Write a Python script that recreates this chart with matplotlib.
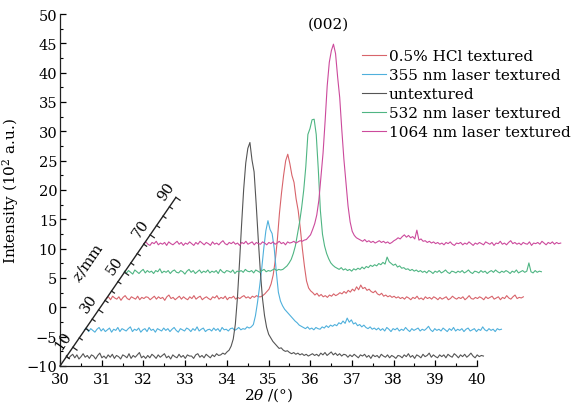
import numpy as np
import matplotlib
matplotlib.use("Agg")
import matplotlib.pyplot as plt

# ---------------- data (2theta grid, intensities in 10^2 a.u. above background) -------------
two_theta = np.linspace(30.0, 40.0, 201)

untextured = [
    0.2, -0.3, 0.1, 0.4, -0.2, 0.3, -0.4, 0.0, 0.5, -0.1, 0.2, -0.3, 0.3, 0.1, -0.4, 0.2, 0.6, -0.2, 0.1, -0.3,
    0.3, -0.1, 0.4, -0.3, 0.2, 0.0, -0.4, 0.3, 0.1, -0.2, 0.5, -0.3, 0.2, -0.1, 0.3, 0.7, -0.2, 0.1, -0.3, 0.2,
    -0.2, 0.4, 0.1, -0.3, 0.3, -0.1, 0.2, 0.5, -0.2, 0.1, -0.4, 0.3, 0.0, -0.2, 0.4, -0.1, 0.2, -0.3, 0.3, 0.1,
    0.1, -0.3, 0.3, 0.5, -0.1, 0.2, -0.2, 0.4, 0.1, -0.2, 0.3, 0.0, 0.5, 0.2, 0.3, 0.6, 0.4, 0.8, 1.1, 1.8,
    3.0, 5.5, 10.0, 16.0, 22.5, 28.5, 33.0, 35.5, 36.5, 33.5, 31.5, 26.0, 20.0, 14.5, 10.0, 7.0, 5.0, 3.8, 3.2, 2.6,
    2.2, 1.8, 1.4, 1.5, 1.1, 0.9, 1.0, 0.7, 0.5, 0.7, 0.4, 0.6, 0.3, 0.5, 0.2, 0.4, 0.1, 0.3, 0.5, 0.2,
    0.4, 0.1, 0.6, 0.3, 0.7, 0.2, 0.5, 0.8, 0.3, 0.6, 0.2, 0.5, 0.1, 0.4, 0.3, -0.1, 0.3, 0.0, 0.4, 0.1,
    -0.2, 0.3, 0.1, 0.4, -0.1, 0.2, -0.3, 0.3, 0.0, 0.2, -0.2, 0.4, 0.1, -0.1, 0.3, -0.2, 0.2, 0.0, -0.3, 0.2,
    0.1, -0.2, 0.3, 0.0, 0.5, -0.1, 0.2, -0.3, 0.3, 0.1, -0.2, 0.4, 0.0, 0.2, 0.6, -0.1, 0.3, 0.0, -0.2, 0.3,
    0.0, 0.3, -0.2, 0.4, 0.1, -0.1, 0.5, 0.2, -0.2, 0.3, 0.0, 0.4, -0.1, 0.2, 0.6, 0.1, -0.2, 0.3, 0.0, 0.2,
    0.1]

laser_355 = [
    0.1, 0.4, -0.2, 0.3, 0.0, -0.3, 0.2, 0.5, -0.1, 0.3, -0.2, 0.1, 0.4, -0.3, 0.2, 0.0, 0.5, -0.2, 0.3, 0.1,
    -0.1, 0.3, 0.6, -0.2, 0.2, 0.0, 0.4, -0.3, 0.1, 0.3, -0.2, 0.5, 0.0, 0.2, -0.3, 0.3, 0.1, -0.1, 0.4, 0.0,
    0.3, -0.2, 0.2, 0.5, 0.0, -0.3, 0.3, 0.1, -0.1, 0.4, 0.2, -0.2, 0.3, 0.0, 0.6, -0.1, 0.2, 0.4, -0.2, 0.1,
    0.2, -0.1, 0.4, 0.0, 0.3, -0.2, 0.5, 0.1, 0.2, -0.1, 0.3, 0.4, 0.0, 0.2, 0.5, 0.1, 0.3, 0.2, 0.6, 0.4,
    0.6, 1.0, 2.5, 4.8, 7.5, 10.5, 14.0, 17.0, 18.7, 17.2, 16.5, 14.0, 10.0, 6.5, 5.0, 4.2, 3.6, 3.2, 2.8, 2.4,
    2.0, 1.6, 1.3, 0.9, 0.7, 0.5, 0.3, 0.6, 0.2, 0.4, 0.1, 0.5, 0.3, 0.2, 0.6, 0.4, 0.8, 0.5, 0.9, 0.7,
    1.0, 0.8, 1.3, 1.1, 1.6, 1.2, 2.1, 1.4, 1.8, 1.1, 1.3, 0.8, 1.0, 0.6, 0.9, 0.5, 0.3, 0.6, 0.2, 0.4,
    0.1, 0.4, 0.0, 0.3, -0.1, 0.5, 0.2, -0.2, 0.3, 0.1, 0.4, -0.1, 0.2, 0.0, 0.5, 0.1, -0.2, 0.3, 0.0, 0.2,
    0.4, -0.1, 0.2, 0.0, 0.3, 0.7, 0.1, -0.2, 0.3, 0.0, 0.2, -0.1, 0.4, 0.1, -0.2, 0.3, 0.0, 0.5, -0.1, 0.2,
    0.0, 0.3, -0.2, 0.2, 0.4, -0.1, 0.1, 0.3, -0.2, 0.2, 0.0, 0.6, 0.1, -0.1, 0.3, 0.0, 0.2, -0.2, 0.3, 0.1,
    0.2]

hcl_textured = [
    0.0, 0.3, -0.2, 0.4, 0.1, -0.1, 0.3, -0.3, 0.2, 0.5, 0.0, -0.2, 0.3, 0.1, -0.1, 0.4, -0.2, 0.2, 0.0, 0.3,
    0.2, -0.2, 0.1, 0.4, -0.1, 0.3, 0.0, 0.2, -0.3, 0.3, 0.6, 0.0, 0.2, -0.2, 0.1, 0.4, -0.1, 0.3, 0.0, -0.2,
    0.3, 0.0, 0.5, -0.1, 0.2, 0.4, -0.2, 0.1, 0.3, 0.0, -0.2, 0.3, 0.1, 0.5, -0.1, 0.2, 0.0, 0.4, -0.2, 0.2,
    0.1, 0.4, -0.1, 0.2, 0.0, 0.3, 0.5, 0.1, 0.3, 0.0, 0.4, 0.2, 0.5, 0.3, 0.3, 0.5, 0.8, 1.2, 1.6, 2.5,
    4.0, 6.5, 10.0, 14.5, 18.0, 21.0, 23.5, 24.6, 23.0, 21.0, 19.8, 17.0, 15.0, 12.0, 8.5, 5.5, 3.0, 1.8, 1.3, 1.0,
    0.6, 0.9, 0.4, 0.7, 0.3, 0.5, 0.2, 0.6, 0.4, 0.8, 0.5, 0.7, 1.0, 0.8, 1.2, 0.9, 1.4, 1.1, 1.6, 1.3,
    2.0, 1.5, 2.3, 1.7, 1.9, 1.4, 1.6, 1.2, 1.0, 1.3, 0.8, 0.6, 0.9, 0.4, 0.6, 0.3, 0.5, 0.2, 0.4, 0.1,
    0.3, 0.0, 0.2, -0.1, 0.3, 0.1, -0.2, 0.2, 0.0, 0.4, -0.1, 0.1, -0.2, 0.3, 0.0, 0.2, -0.1, 0.3, 0.1, -0.2,
    0.2, -0.1, 0.1, 0.3, -0.2, 0.0, 0.4, 0.1, -0.1, 0.2, 0.0, 0.3, -0.2, 0.1, 0.5, 0.0, -0.1, 0.2, 0.0, 0.3,
    0.1, -0.2, 0.3, 0.0, 0.2, 0.4, -0.1, 0.1, 0.3, -0.2, 0.2, 0.0, 0.5, 0.1, -0.1, 0.3, 0.6, 0.0, 0.2, 0.1,
    0.3]

laser_532 = [
    0.2, -0.1, 0.3, 0.0, -0.3, 0.4, 0.1, -0.2, 0.2, 0.5, -0.1, 0.3, 0.0, 0.2, -0.2, 0.3, 0.1, 0.6, -0.1, 0.2,
    0.0, 0.3, -0.2, 0.2, 0.4, 0.0, -0.1, 0.3, 0.1, -0.3, 0.2, 0.5, 0.0, 0.3, -0.2, 0.1, 0.4, -0.1, 0.2, 0.0,
    0.4, -0.1, 0.2, 0.0, 0.3, -0.2, 0.5, 0.1, -0.1, 0.3, 0.2, 0.0, 0.4, -0.2, 0.2, 0.1, 0.3, 0.0, 0.5, 0.2,
    0.1, 0.3, -0.1, 0.4, 0.2, 0.0, 0.3, 0.5, 0.1, 0.3, 0.2, 0.4, 0.6, 0.3, 0.5, 0.4, 0.5, 0.8, 1.1, 1.6,
    2.2, 3.2, 4.5, 6.5, 8.5, 11.0, 14.0, 18.0, 23.5, 24.5, 26.0, 26.1, 23.5, 17.5, 10.5, 6.5, 4.5, 3.2, 2.3, 1.6,
    1.2, 0.9, 0.7, 0.5, 0.8, 0.4, 0.6, 0.3, 0.5, 0.2, 0.6, 0.4, 0.7, 0.5, 0.9, 0.6, 1.0, 0.8, 1.2, 1.0,
    1.3, 1.1, 1.5, 1.3, 1.7, 1.4, 2.6, 1.8, 1.5, 1.2, 1.4, 0.9, 1.1, 0.7, 0.8, 0.5, 0.6, 0.3, 0.5, 0.2,
    0.4, 0.1, 0.3, 0.0, 0.2, -0.1, 0.3, 0.1, -0.2, 0.2, 0.0, 0.3, -0.1, 0.1, 0.4, 0.0, -0.2, 0.2, 0.1, -0.1,
    0.2, 0.0, 0.3, -0.1, 0.1, 0.4, 0.0, -0.2, 0.2, 0.1, -0.1, 0.3, 0.0, 0.2, -0.2, 0.1, 0.3, 0.0, 0.4, 0.1,
    -0.1, 0.2, 0.0, 0.3, 0.1, -0.2, 0.2, 0.0, 0.4, -0.1, 0.1, 0.3, 0.0, 0.2, 1.6, 0.1, -0.1, 0.3, 0.0, 0.2,
    0.1]

laser_1064 = [
    0.1, 0.4, 0.0, -0.2, 0.3, 0.1, 0.5, -0.1, 0.2, 0.0, 0.3, -0.2, 0.4, 0.1, -0.1, 0.2, 0.5, 0.0, 0.3, -0.2,
    0.2, 0.0, 0.4, 0.1, -0.2, 0.3, 0.0, 0.5, 0.2, -0.1, 0.3, 0.1, -0.2, 0.4, 0.0, 0.2, -0.1, 0.3, 0.6, 0.1,
    -0.1, 0.3, 0.1, 0.4, 0.0, 0.2, -0.2, 0.3, 0.1, 0.5, 0.0, 0.2, 0.4, -0.1, 0.3, 0.1, 0.0, 0.4, 0.2, -0.1,
    0.3, 0.1, 0.4, 0.0, 0.2, 0.5, 0.1, 0.3, -0.1, 0.4, 0.2, 0.3, 0.5, 0.2, 0.4, 0.6, 0.5, 0.7, 0.8, 1.2,
    1.6, 2.5, 3.5, 5.0, 7.5, 11.5, 15.5, 21.0, 27.0, 31.0, 33.0, 34.1, 32.5, 28.5, 25.0, 19.5, 14.5, 10.5, 6.5, 3.8,
    2.2, 1.5, 1.1, 0.9, 0.7, 0.5, 0.8, 0.4, 0.6, 0.3, 0.5, 0.2, 0.4, 0.6, 0.3, 0.5, 0.2, 0.4, 0.1, 0.3,
    0.6, 0.8, 1.1, 0.9, 1.3, 1.6, 1.2, 1.5, 1.1, 1.3, 0.9, 2.4, 0.7, 0.9, 0.5, 0.6, 0.3, 0.5, 0.2, 0.4,
    0.1, 0.3, 0.0, 0.2, -0.1, 0.3, 0.1, 0.4, 0.0, -0.2, 0.2, 0.1, 0.3, -0.1, 0.2, 0.0, 0.4, 0.1, -0.2, 0.2,
    0.0, 0.3, 0.1, -0.1, 0.4, 0.2, 0.0, 0.3, -0.2, 0.2, 0.1, 0.5, 0.0, 0.2, -0.1, 0.3, 0.6, 0.1, 0.3, 0.0,
    0.2, -0.1, 0.3, 0.1, 0.0, 0.4, -0.2, 0.2, 0.1, 0.3, 0.0, 0.5, 0.2, -0.1, 0.3, 0.1, 0.4, 0.0, 0.3, 0.1,
    0.2]

series_labels = ["0.5% HCl textured", "355 nm laser textured", "untextured",
                 "532 nm laser textured", "1064 nm laser textured"]
series_values = [hcl_textured, laser_355, untextured, laser_532, laser_1064]
series_z = [36, 19, 5, 50, 65]          # position along the z axis (mm)
z_ticklabels = [10, 30, 50, 70, 90]
x_ticks = list(range(30, 41))
y_ticks = list(range(-10, 51, 5))

# ---------------- style -------------
colors = ["#d8646b", "#4fb0dc", "#555555", "#4fb583", "#cc4a9c"]
plt.rcParams["font.family"] = ["DejaVu Serif"]
plt.rcParams["mathtext.fontset"] = "dejavuserif"
plt.rcParams["axes.unicode_minus"] = True

W, H = 575, 410
fig = plt.figure(figsize=(W / 100, H / 100), dpi=100)
ax = fig.add_axes([60 / W, 43 / H, 417 / W, 352 / H])
ax.set_xlim(30, 40)
ax.set_ylim(-10, 50)

# z-axis projection (oblique axis drawn from the origin corner)
Z_MAX = 90.0
z_end = (32.78, 18.74)
dxz = (z_end[0] - 30.0) / Z_MAX
dyz = (z_end[1] + 10.0) / Z_MAX


def zpoint(z):
    return 30.0 + z * dxz, -10.0 + z * dyz


for vals, z, lab, c in zip(series_values, series_z, series_labels, colors):
    x0, y0 = zpoint(z)
    ax.plot(two_theta + (x0 - 30.0), np.asarray(vals) + y0, color=c, lw=0.8,
            label=lab, clip_on=False)

for s in ["top", "right"]:
    ax.spines[s].set_visible(False)
for s in ["left", "bottom"]:
    ax.spines[s].set_linewidth(0.9)
    ax.spines[s].set_color("#222222")

ax.set_xticks(x_ticks)
ax.set_xticks(np.arange(30.5, 40, 1.0), minor=True)
ax.set_yticks(y_ticks)
ax.set_yticks(np.arange(-7.5, 50, 5), minor=True)
ax.tick_params(which="major", direction="in", length=4.5, width=0.9, labelsize=10.5, pad=2)
ax.tick_params(which="minor", direction="in", length=2.5, width=0.8)
ax.tick_params(axis="x", pad=4)
ax.set_xlabel(r"2$\theta$ /(°)", fontsize=11, labelpad=0)
ax.set_ylabel(r"Intensity (10$^2$ a.u.)", fontsize=11, labelpad=4)

# draw oblique z axis
p0 = ax.transData.transform(zpoint(0))
p1 = ax.transData.transform(zpoint(Z_MAX))
u = (p1 - p0) / np.hypot(*(p1 - p0))
n_right = np.array([u[1], -u[0]])
angle = np.degrees(np.arctan2(u[1], u[0]))
inv = ax.transData.inverted()
zx = [zpoint(0)[0], zpoint(Z_MAX)[0]]
zy = [zpoint(0)[1], zpoint(Z_MAX)[1]]
ax.plot(zx, zy, color="#222222", lw=1.0, clip_on=False)
for z in np.arange(5, Z_MAX + 0.1, 5):
    p = ax.transData.transform(zpoint(z))
    L = 5.0 if z in z_ticklabels else 3.5
    q = inv.transform(p + n_right * L)
    b = zpoint(z)
    ax.plot([b[0], q[0]], [b[1], q[1]], color="#222222", lw=0.9, clip_on=False)
for z in z_ticklabels:
    p = ax.transData.transform(zpoint(z))
    t = inv.transform(p - n_right * 12)
    ax.text(t[0], t[1], str(z), rotation=angle, ha="center", va="center",
            fontsize=10.5, rotation_mode="anchor")
p = ax.transData.transform(zpoint(45))
t = inv.transform(p - n_right * 36)
ax.text(t[0], t[1], r"$z$/mm", rotation=angle, ha="center", va="center",
        fontsize=11, rotation_mode="anchor")

fig.text(328 / W, 1 - 25 / H, "(002)", ha="center", va="center", fontsize=11)

ax.legend(loc="upper left", bbox_to_anchor=(362 / W, 1 - 50 / H),
          bbox_transform=fig.transFigure, frameon=False, fontsize=11,
          handlelength=1.6, handletextpad=0.15, labelspacing=0.33,
          borderpad=0, borderaxespad=0)

fig.savefig("out.png", dpi=100)
